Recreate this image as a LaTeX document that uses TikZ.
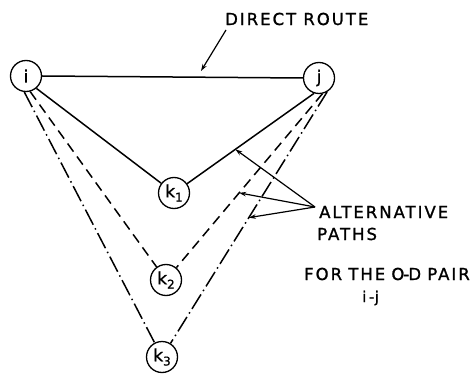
\documentclass[tikz,border=0pt]{standalone}
\usepackage{fontspec}
\setmainfont{DejaVu Sans}
\newfontfamily\capsfont[LetterSpace=12,FakeBold=1.2]{DejaVu Sans}
\newfontfamily\ndfont[FakeBold=1]{DejaVu Sans}
\usetikzlibrary{arrows.meta}
\begin{document}
\begin{tikzpicture}[x=1pt,y=-1pt,
  nd/.style={circle,draw,line width=1.3pt,minimum size=31pt,inner sep=0pt,font=\ndfont\fontsize{17}{17}\selectfont},
  ln/.style={line width=1.5pt},
  dsh/.style={ln,dash pattern=on 10pt off 6pt},
  dshdot/.style={ln,dash pattern=on 17pt off 4pt on 1.5pt off 4pt},
  lbl/.style={font=\capsfont\fontsize{16.5}{16.5}\selectfont,inner sep=0pt,anchor=west},
  arr/.style={line width=1.2pt,-{Stealth[length=7pt,width=4.5pt]}}]
\useasboundingbox (0,0) rectangle (476,374);
% nodes
\node[nd] (i) at (26,76) {i};
\node[nd] (j) at (319,78) {j};
\node[nd] (k1) at (174,193) {k\raisebox{-0.45ex}{\fontsize{12}{12}\selectfont 1}};
\node[nd] (k2) at (166,280) {k\raisebox{-0.45ex}{\fontsize{12}{12}\selectfont 2}};
\node[nd] (k3) at (162,357) {k\raisebox{-0.45ex}{\fontsize{12}{12}\selectfont 3}};
% direct route
\draw[ln] (i.east) -- (j.west);
% alternative paths
\draw[ln] (i.-50) -- (k1);
\draw[ln] (j.-108) -- (k1) coordinate[pos=0.62] (t1);
\draw[dsh] (i.-75) -- (k2);
\draw[dsh] (j.-78) -- (k2) coordinate[pos=0.57] (t2);
\draw[dshdot] (i.-96) -- (k3);
\draw[dshdot] (j.-60) -- (k3) coordinate[pos=0.50] (t3);
% labels
\node[lbl] (dr) at (225,19) {DIRECT ROUTE};
\coordinate (drs) at (226,30);
\coordinate (drt) at (201,71);
\draw[arr] (drs) -- (drt);
\node[lbl] (alt) at (319,212) {ALTERNATIVE};
\node[lbl] (pa) at (317,234) {PATHS};
\node[lbl] (od) at (304,274) {FOR\kern-1pt\ THE\kern-1pt\ O\kern-1pt-\kern-1pt D\kern-1pt\ PAIR};
\node[font=\ndfont\fontsize{15}{15}\selectfont,inner sep=0pt,anchor=west] (ij) at (362,298) {i\,-\kern0.5pt j};
\coordinate (apex) at (315,207);
\draw[arr] (apex) -- (t1);
\draw[arr] (apex) -- (t2);
\draw[arr] (apex) -- (t3);
\end{tikzpicture}
\end{document}
